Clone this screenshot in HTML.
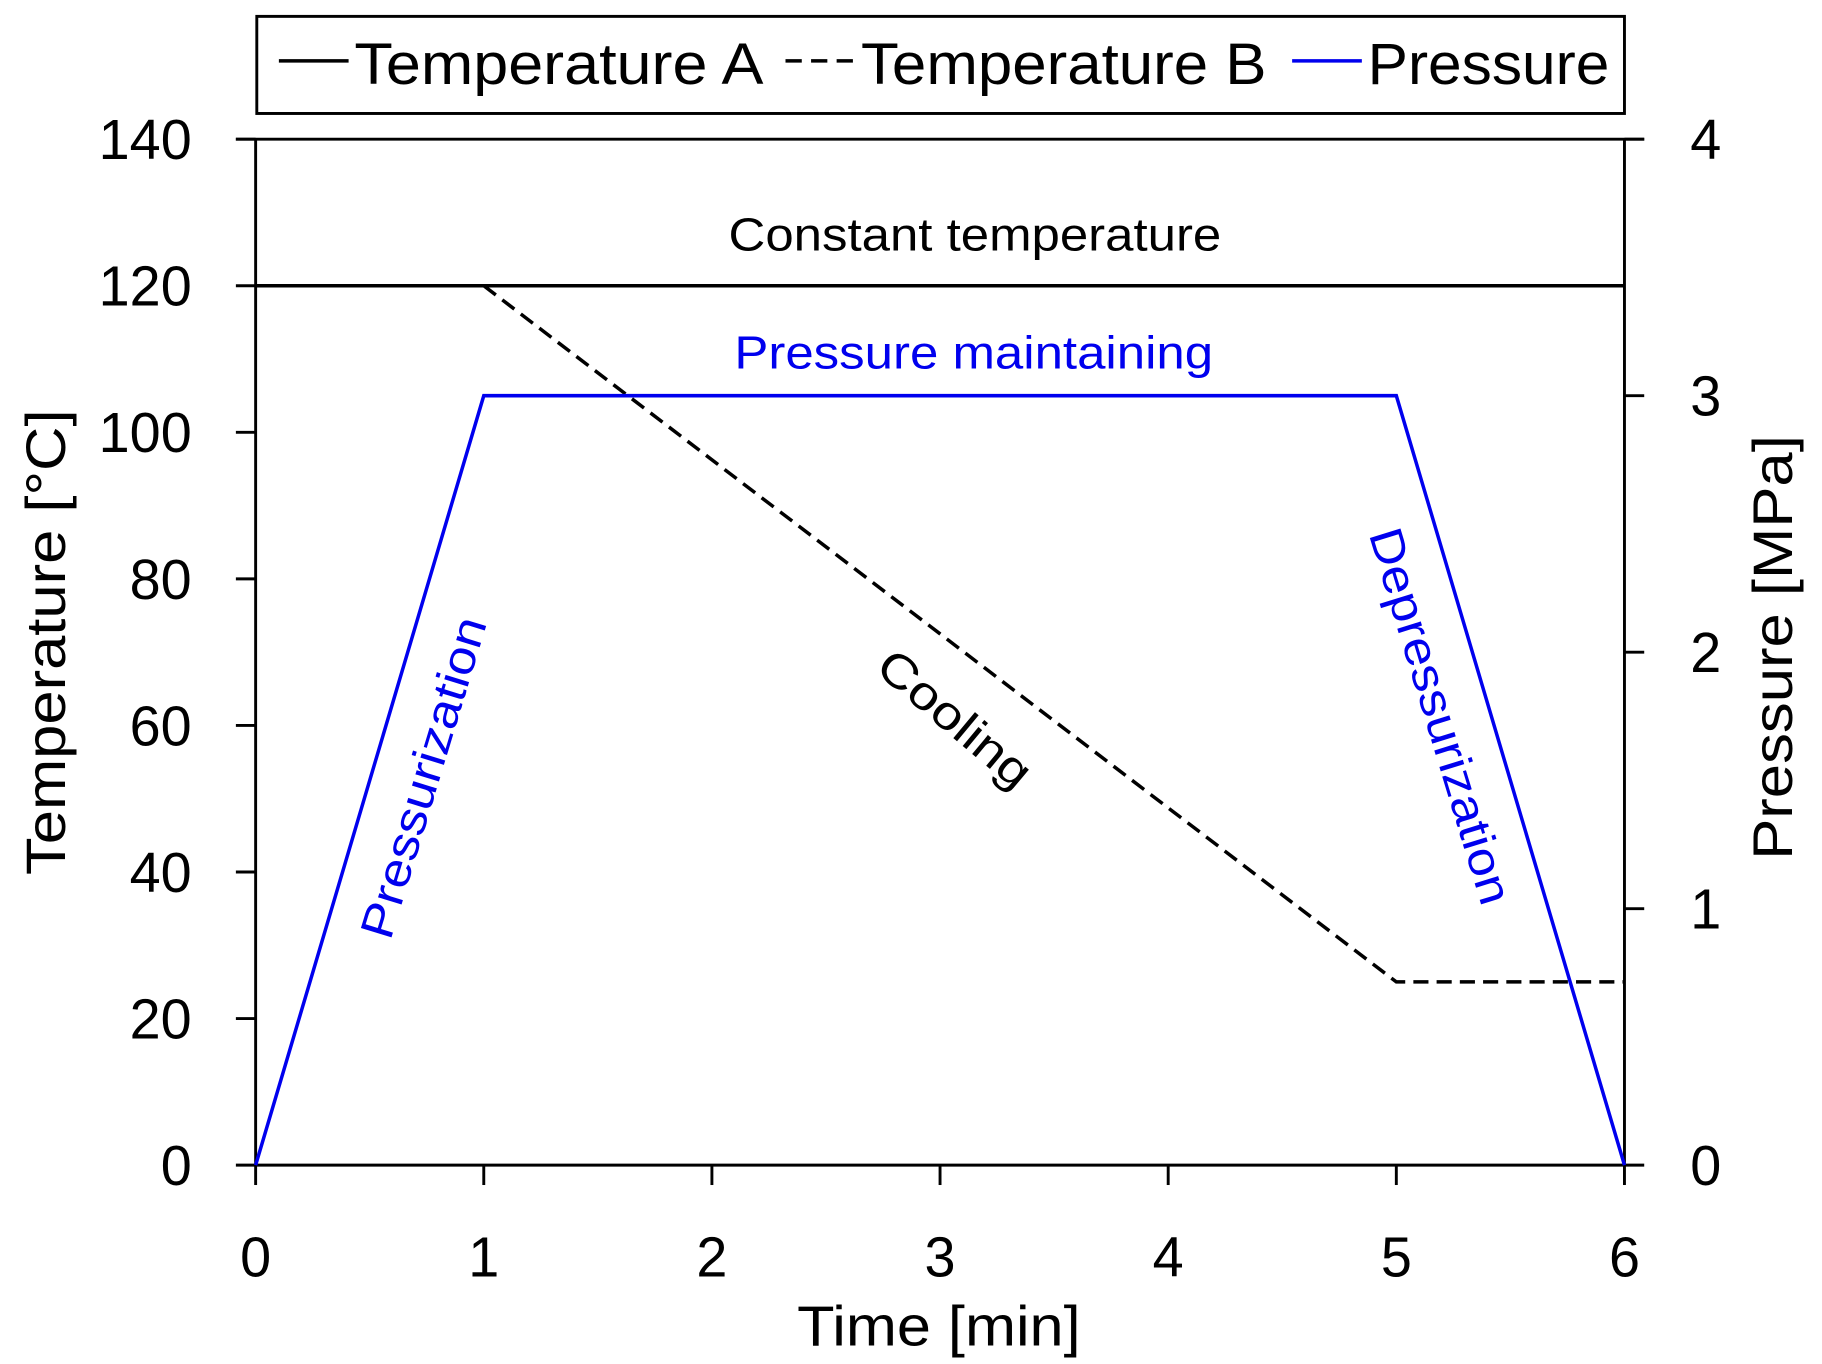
<!DOCTYPE html>
<html><head><meta charset="utf-8"><style>
html,body{margin:0;padding:0;background:#fff;}
svg{display:block;font-family:"Liberation Sans",Arial,sans-serif;}
</style></head><body>
<svg id="chart" width="1822" height="1364" viewBox="0 0 1568 1166" preserveAspectRatio="none" xmlns="http://www.w3.org/2000/svg">
<g>
<rect x="221" y="14" width="1177" height="83" fill="#fff" stroke="#000" stroke-width="2.5"/>
<line x1="240" y1="52" x2="300" y2="52" stroke="#000" stroke-width="3"/>
<text x="305" y="72" font-size="50" textLength="352" lengthAdjust="spacingAndGlyphs">Temperature A</text>
<line x1="676" y1="52" x2="736" y2="52" stroke="#000" stroke-width="3" stroke-dasharray="14,8"/>
<text x="741" y="72" font-size="50" textLength="349" lengthAdjust="spacingAndGlyphs">Temperature B</text>
<line x1="1112" y1="52" x2="1172" y2="52" stroke="#0000ee" stroke-width="3"/>
<text x="1177" y="72" font-size="50" textLength="208" lengthAdjust="spacingAndGlyphs">Pressure</text>
</g>
<g id="axes"></g>
<g id="series"></g>
<g font-size="40">
<text x="627" y="214" textLength="424" lengthAdjust="spacingAndGlyphs">Constant temperature</text>
<text x="632" y="315" fill="#0000ee" textLength="412" lengthAdjust="spacingAndGlyphs">Pressure maintaining</text>
<g transform="translate(822,614) rotate(40)"><text x="-80" y="14" textLength="160" lengthAdjust="spacingAndGlyphs">Cooling</text></g>
<g transform="translate(364,665) rotate(-73)"><text x="-142" y="14" fill="#0000ee" textLength="285" lengthAdjust="spacingAndGlyphs">Pressurization</text></g>
<g transform="translate(1240,612) rotate(73)"><text x="-167" y="14" fill="#0000ee" textLength="334" lengthAdjust="spacingAndGlyphs">Depressurization</text></g>
</g>
<text x="686" y="1150" font-size="48" textLength="244" lengthAdjust="spacingAndGlyphs">Time [min]</text>
<text transform="translate(56,748) rotate(-90)" font-size="48" textLength="398" lengthAdjust="spacingAndGlyphs">Temperature [°C]</text>
<text transform="translate(1542,735) rotate(-90)" font-size="48" textLength="363" lengthAdjust="spacingAndGlyphs">Pressure [MPa]</text>
</svg>
<script>
const xTicks=[0,1,2,3,4,5,6];
const yTicksLeft=[0,20,40,60,80,100,120,140];
const yTicksRight=[0,1,2,3,4];
const timeA=[0,6];
const tempA=[120,120];
const timeB=[1,5,6];
const tempB=[120,25,25];
const timeP=[0,1,5,6];
const pressure=[0,3,3,0];
const NS="http://www.w3.org/2000/svg";
const X=t=>220+t*(1398-220)/6;
const YL=v=>996-v*(996-119)/140;
const YR=v=>996-v*(996-119)/4;
function mk(tag,attrs,parent){const e=document.createElementNS(NS,tag);for(const k in attrs)e.setAttribute(k,attrs[k]);parent.appendChild(e);return e;}
const axes=document.getElementById('axes');
let l=mk('line',{x1:220,y1:996,x2:1398,y2:996,stroke:'#000','stroke-width':2.5},axes);


l=mk('line',{x1:220,y1:119,x2:220,y2:996,stroke:'#000','stroke-width':2.5},axes);


l=mk('line',{x1:1398,y1:119,x2:1398,y2:996,stroke:'#000','stroke-width':2.5},axes);


xTicks.forEach(t=>{
 mk('line',{x1:X(t),y1:996,x2:X(t),y2:1013,stroke:'#000','stroke-width':2.5},axes);
 const tx=mk('text',{x:X(t),y:1091,'text-anchor':'middle','font-size':48},axes);
 tx.textContent=t;
 
 
});
yTicksLeft.forEach(v=>{
 mk('line',{x1:203,y1:YL(v),x2:220,y2:YL(v),stroke:'#000','stroke-width':2.5},axes);
 const tx=mk('text',{x:165,y:YL(v)+17,'text-anchor':'end','font-size':48},axes);
 tx.textContent=v;
 
 
});
mk('line',{x1:203,y1:119,x2:1415,y2:119,stroke:'#000','stroke-width':2.5},axes);
yTicksRight.forEach(v=>{
 mk('line',{x1:1398,y1:YR(v),x2:1415,y2:YR(v),stroke:'#000','stroke-width':2.5},axes);
 const tx=mk('text',{x:1468,y:YR(v)+17,'text-anchor':'middle','font-size':48},axes);
 tx.textContent=v;
 
 
});
const ser=document.getElementById('series');
let p=mk('polyline',{points:timeA.map((t,i)=>X(t)+','+YL(tempA[i])).join(' '),fill:'none',stroke:'#000','stroke-width':3},ser);


p=mk('polyline',{points:timeB.map((t,i)=>X(t)+','+YL(tempB[i])).join(' '),fill:'none',stroke:'#000','stroke-width':3,'stroke-dasharray':'13,7'},ser);


p=mk('polyline',{points:timeP.map((t,i)=>X(t)+','+YR(pressure[i])).join(' '),fill:'none',stroke:'#0000ee','stroke-width':3},ser);


</script>
</body></html>
